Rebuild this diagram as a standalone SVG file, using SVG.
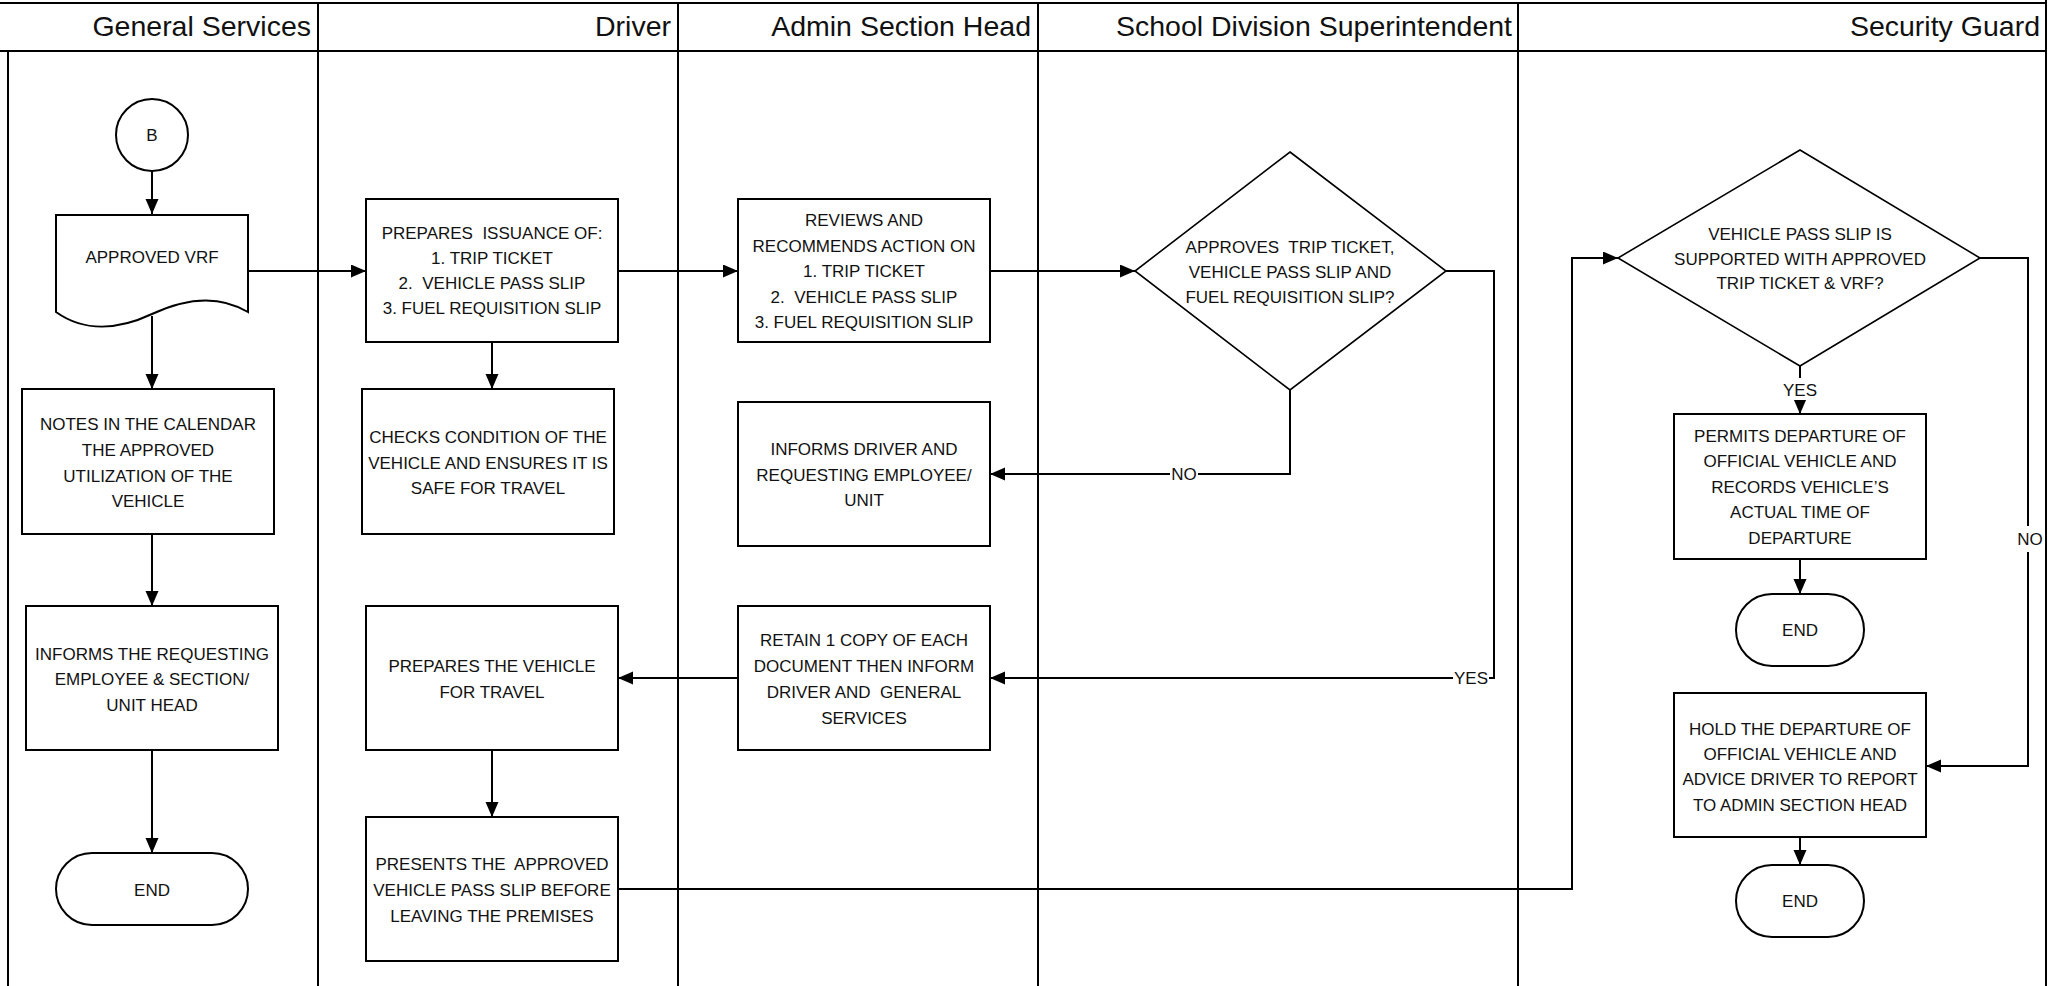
<svg xmlns="http://www.w3.org/2000/svg" width="2058" height="986" viewBox="0 0 2058 986">
<style>
.lane{stroke:#000;stroke-width:2;fill:none}
.hdr{font-family:"Liberation Sans",Arial,sans-serif;font-size:28.5px;fill:#111;text-anchor:end}
.box{fill:#fff;stroke:#000;stroke-width:2}
.dia{fill:#fff;stroke:#000;stroke-width:1.6}
.t{font-family:"Liberation Sans",Arial,sans-serif;font-size:17px;fill:#111;text-anchor:middle;white-space:pre}
.c{fill:none;stroke:#000;stroke-width:2}
.lbg{fill:#fff;stroke:none}
</style>
<defs>
<marker id="ah" markerUnits="userSpaceOnUse" markerWidth="16" markerHeight="14" refX="15" refY="6.5" orient="auto">
<path d="M0,0 L15,6.5 L0,13 z" fill="#000"/>
</marker>
</defs>
<rect width="2058" height="986" fill="#fff"/>
<g id="lanes">
<line class="lane" x1="0" y1="3" x2="2046" y2="3"/>
<line class="lane" x1="0" y1="51" x2="2046" y2="51"/>
<line class="lane" x1="8" y1="51" x2="8" y2="986"/>
<line class="lane" x1="318" y1="3" x2="318" y2="986"/>
<line class="lane" x1="678" y1="3" x2="678" y2="986"/>
<line class="lane" x1="1038" y1="3" x2="1038" y2="986"/>
<line class="lane" x1="1518" y1="3" x2="1518" y2="986"/>
<line class="lane" x1="2046" y1="0" x2="2046" y2="986"/>
<text class="hdr" x="311" y="36">General Services</text>
<text class="hdr" x="671" y="36">Driver</text>
<text class="hdr" x="1031" y="36">Admin Section Head</text>
<text class="hdr" x="1512" y="36">School Division Superintendent</text>
<text class="hdr" x="2040" y="36">Security Guard</text>
</g>
<g id="connectors">
<path class="c" d="M152,171 V214" marker-end="url(#ah)"/>
<path class="c" d="M248,271 H366" marker-end="url(#ah)"/>
<path class="c" d="M152,316 V389" marker-end="url(#ah)"/>
<path class="c" d="M152,534 V606" marker-end="url(#ah)"/>
<path class="c" d="M152,750 V853" marker-end="url(#ah)"/>
<path class="c" d="M492,342 V389" marker-end="url(#ah)"/>
<path class="c" d="M618,271 H738" marker-end="url(#ah)"/>
<path class="c" d="M990,271 H1135" marker-end="url(#ah)"/>
<path class="c" d="M1290,390 V474 H990" marker-end="url(#ah)"/>
<path class="c" d="M1446,271 H1494 V678 H990" marker-end="url(#ah)"/>
<path class="c" d="M738,678 H618" marker-end="url(#ah)"/>
<path class="c" d="M492,750 V817" marker-end="url(#ah)"/>
<path class="c" d="M618,889 H1572 V258 H1618" marker-end="url(#ah)"/>
<path class="c" d="M1800,366 V414" marker-end="url(#ah)"/>
<path class="c" d="M1980,258 H2028 V766 H1926" marker-end="url(#ah)"/>
<path class="c" d="M1800,559 V594" marker-end="url(#ah)"/>
<path class="c" d="M1800,837 V865" marker-end="url(#ah)"/>
<rect class="lbg" x="1170" y="464" width="28" height="20"/>
<text class="t" x="1184" y="480">NO</text>
<rect class="lbg" x="1453" y="668" width="36" height="20"/>
<text class="t" x="1471" y="684">YES</text>
<rect class="lbg" x="1782" y="378" width="36" height="22"/>
<text class="t" x="1800" y="396">YES</text>
<rect class="lbg" x="2017" y="526" width="27" height="26"/>
<text class="t" x="2030" y="545">NO</text>
</g>
<g id="n-b">
<circle class="box" cx="152" cy="135" r="36"/>
<text class="t" x="152" y="141">B</text>
</g>
<g id="n-vrf">
<path class="box" d="M56,215 H248 V312 C218,294 186,298 152,314 C118,330 84,332 56,312 Z"/>
<text class="t" x="152" y="263">APPROVED VRF</text>
</g>
<g id="n-notes">
<rect class="box" x="22" y="389" width="252" height="145"/>
<text class="t" x="148" y="430">NOTES IN THE CALENDAR</text>
<text class="t" x="148" y="456">THE APPROVED</text>
<text class="t" x="148" y="481.5">UTILIZATION OF THE</text>
<text class="t" x="148" y="507">VEHICLE</text>
</g>
<g id="n-informs-gs">
<rect class="box" x="26" y="606" width="252" height="144"/>
<text class="t" x="152" y="659.5">INFORMS THE REQUESTING</text>
<text class="t" x="152" y="685">EMPLOYEE &amp; SECTION/</text>
<text class="t" x="152" y="710.5">UNIT HEAD</text>
</g>
<g id="n-end-gs">
<rect class="box" x="56" y="853" width="192" height="72" rx="36" ry="36"/>
<text class="t" x="152" y="895.5">END</text>
</g>
<g id="n-prepares">
<rect class="box" x="366" y="199" width="252" height="143"/>
<text class="t" x="492" y="239">PREPARES  ISSUANCE OF:</text>
<text class="t" x="492" y="264">1. TRIP TICKET</text>
<text class="t" x="492" y="289">2.  VEHICLE PASS SLIP</text>
<text class="t" x="492" y="314">3. FUEL REQUISITION SLIP</text>
</g>
<g id="n-checks">
<rect class="box" x="362" y="389" width="252" height="145"/>
<text class="t" x="488" y="443">CHECKS CONDITION OF THE</text>
<text class="t" x="488" y="469">VEHICLE AND ENSURES IT IS</text>
<text class="t" x="488" y="494">SAFE FOR TRAVEL</text>
</g>
<g id="n-prepvehicle">
<rect class="box" x="366" y="606" width="252" height="144"/>
<text class="t" x="492" y="672">PREPARES THE VEHICLE</text>
<text class="t" x="492" y="697.5">FOR TRAVEL</text>
</g>
<g id="n-presents">
<rect class="box" x="366" y="817" width="252" height="144"/>
<text class="t" x="492" y="870">PRESENTS THE  APPROVED</text>
<text class="t" x="492" y="895.5">VEHICLE PASS SLIP BEFORE</text>
<text class="t" x="492" y="921.5">LEAVING THE PREMISES</text>
</g>
<g id="n-reviews">
<rect class="box" x="738" y="199" width="252" height="143"/>
<text class="t" x="864" y="226">REVIEWS AND</text>
<text class="t" x="864" y="251.5">RECOMMENDS ACTION ON</text>
<text class="t" x="864" y="277">1. TRIP TICKET</text>
<text class="t" x="864" y="302.5">2.  VEHICLE PASS SLIP</text>
<text class="t" x="864" y="328">3. FUEL REQUISITION SLIP</text>
</g>
<g id="n-informs-driver">
<rect class="box" x="738" y="402" width="252" height="144"/>
<text class="t" x="864" y="455">INFORMS DRIVER AND</text>
<text class="t" x="864" y="481">REQUESTING EMPLOYEE/</text>
<text class="t" x="864" y="506">UNIT</text>
</g>
<g id="n-retain">
<rect class="box" x="738" y="606" width="252" height="144"/>
<text class="t" x="864" y="646">RETAIN 1 COPY OF EACH</text>
<text class="t" x="864" y="672">DOCUMENT THEN INFORM</text>
<text class="t" x="864" y="698">DRIVER AND  GENERAL</text>
<text class="t" x="864" y="724">SERVICES</text>
</g>
<g id="n-approves">
<polygon class="dia" points="1290,152 1446,271 1290,390 1135,271"/>
<text class="t" x="1290" y="253">APPROVES  TRIP TICKET,</text>
<text class="t" x="1290" y="278">VEHICLE PASS SLIP AND</text>
<text class="t" x="1290" y="303">FUEL REQUISITION SLIP?</text>
</g>
<g id="n-passslip">
<polygon class="dia" points="1800,150 1980,258 1800,366 1618,258"/>
<text class="t" x="1800" y="240">VEHICLE PASS SLIP IS</text>
<text class="t" x="1800" y="265">SUPPORTED WITH APPROVED</text>
<text class="t" x="1800" y="289">TRIP TICKET &amp; VRF?</text>
</g>
<g id="n-permits">
<rect class="box" x="1674" y="414" width="252" height="145"/>
<text class="t" x="1800" y="441.5">PERMITS DEPARTURE OF</text>
<text class="t" x="1800" y="467">OFFICIAL VEHICLE AND</text>
<text class="t" x="1800" y="493">RECORDS VEHICLE’S</text>
<text class="t" x="1800" y="518">ACTUAL TIME OF</text>
<text class="t" x="1800" y="544">DEPARTURE</text>
</g>
<g id="n-end-1">
<rect class="box" x="1736" y="594" width="128" height="72" rx="36" ry="36"/>
<text class="t" x="1800" y="636">END</text>
</g>
<g id="n-hold">
<rect class="box" x="1674" y="693" width="252" height="144"/>
<text class="t" x="1800" y="735">HOLD THE DEPARTURE OF</text>
<text class="t" x="1800" y="760">OFFICIAL VEHICLE AND</text>
<text class="t" x="1800" y="785">ADVICE DRIVER TO REPORT</text>
<text class="t" x="1800" y="811">TO ADMIN SECTION HEAD</text>
</g>
<g id="n-end-2">
<rect class="box" x="1736" y="865" width="128" height="72" rx="36" ry="36"/>
<text class="t" x="1800" y="907">END</text>
</g>
</svg>
